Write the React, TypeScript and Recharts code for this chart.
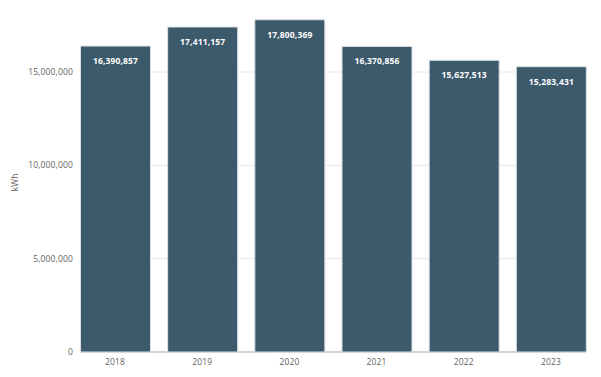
import { BarChart, Bar, XAxis, YAxis, CartesianGrid, LabelList, Label } from 'recharts'

const years = ['2018', '2019', '2020', '2021', '2022', '2023']
const consumption = [16390857, 17411157, 17800369, 16370856, 15627513, 15283431]
const yTicks = [0, 5000000, 10000000, 15000000]

const data = years.map((year, i) => ({ year, kwh: consumption[i] }))

const W = 593
const H = 369
const TOP = 8
const LEFT = 63.5
const RIGHT = 6.5
const BAR = 70
const inset = ((W - LEFT - RIGHT) / years.length - BAR) / 2

const fmt = (v: number) => v.toLocaleString('en-US')
const font = '"Open Sans", Lato, sans-serif'
const textStyle = { fontSize: 8.5, letterSpacing: 0.15 }

// gridlines only as wide as the bars, no line at the top edge
function GridLine(props: any) {
  const { x1, x2, y1, y2 } = props
  if (y1 < TOP + 2) return <g />
  const isBase = y1 > H - 40
  return (
    <line
      x1={x1 + inset}
      x2={x2 - inset}
      y1={y1}
      y2={y2}
      stroke={isBase ? '#a9a9a9' : '#e6e6e6'}
      strokeWidth={1}
    />
  )
}

export default function App() {
  return (
    <BarChart
      width={W}
      height={H}
      data={data}
      margin={{ top: TOP, right: RIGHT, bottom: 0, left: 0 }}
      style={{ fontFamily: font }}
    >
      <CartesianGrid vertical={false} horizontal={(p: any) => <GridLine {...p} />} />
      <XAxis
        dataKey="year"
        axisLine={false}
        tickLine={false}
        tickSize={0}
        tickMargin={7}
        height={25}
        tick={{ fill: '#5f5f5f', ...textStyle }}
      />
      <YAxis
        width={LEFT}
        domain={[0, 18000000]}
        ticks={yTicks}
        axisLine={false}
        tickLine={false}
        tickSize={0}
        tickMargin={0}
        tickFormatter={fmt}
        tick={{ fill: '#5f5f5f', dx: 1.5, ...textStyle }}
      >
        <Label
          content={(p: any) => {
            const vb = p.viewBox
            const cx = 6
            const cy = vb.y + vb.height / 2 - 1.5
            return (
              <text
                x={cx}
                y={cy}
                transform={`rotate(-90 ${cx} ${cy})`}
                textAnchor="middle"
                dominantBaseline="central"
                fill="#5f5f5f"
                fontFamily={font}
                style={textStyle}
              >
                kWh
              </text>
            )
          }}
        />
      </YAxis>
      <Bar
        dataKey="kwh"
        fill="#3d5a6c"
        stroke="#d9e0e5"
        strokeWidth={1}
        barSize={BAR}
        isAnimationActive={false}
      >
        <LabelList
          dataKey="kwh"
          position="insideTop"
          offset={12}
          formatter={(v: any) => fmt(Number(v))}
          fill="#fff"
          fontWeight="bold"
          style={textStyle}
        />
      </Bar>
    </BarChart>
  )
}
